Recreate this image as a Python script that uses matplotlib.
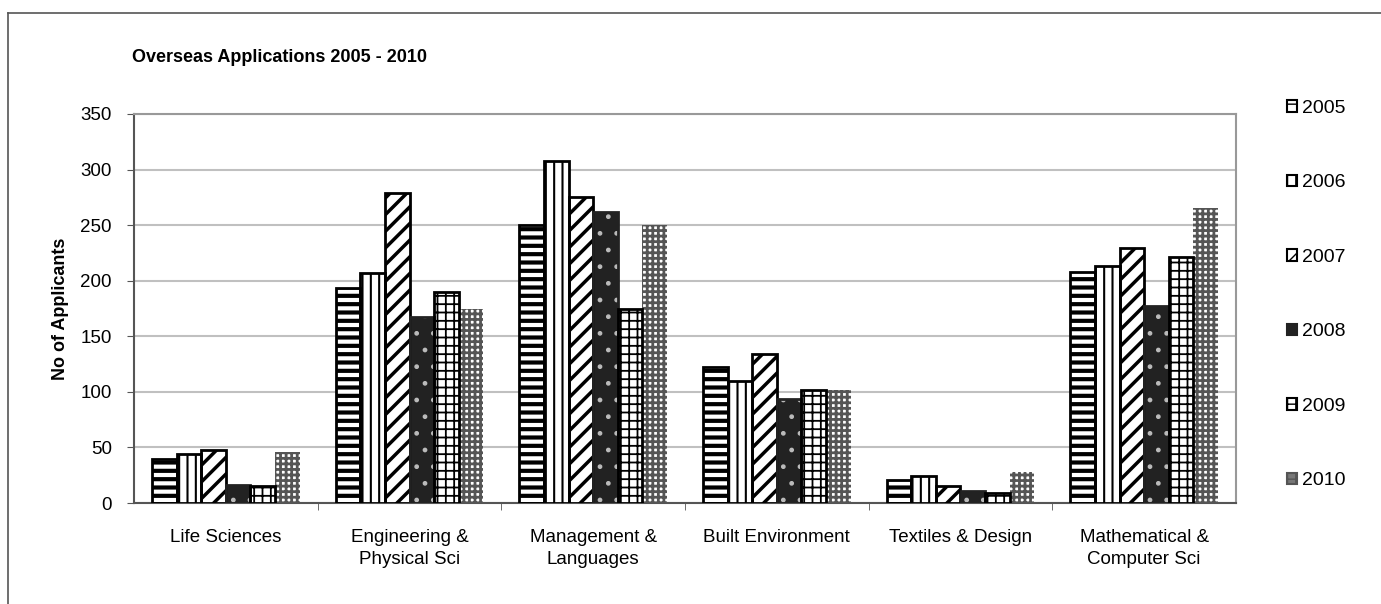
import matplotlib
matplotlib.use("Agg")
import matplotlib.pyplot as plt
import numpy as np
from matplotlib.patches import Patch
from matplotlib.lines import Line2D

plt.rcParams['font.family'] = ['Liberation Sans', 'DejaVu Sans']

categories = ["Life Sciences", "Engineering &\nPhysical Sci", "Management &\nLanguages",
              "Built Environment", "Textiles & Design", "Mathematical &\nComputer Sci"]
years = ["2005", "2006", "2007", "2008", "2009", "2010"]
v2005 = [40, 193, 250, 122, 21, 208]
v2006 = [44, 207, 308, 110, 24, 213]
v2007 = [48, 279, 275, 134, 15, 229]
v2008 = [16, 167, 262, 94, 11, 177]
v2009 = [15, 190, 175, 102, 9, 221]
v2010 = [46, 175, 250, 102, 28, 265]
series = [v2005, v2006, v2007, v2008, v2009, v2010]

styles = [
    dict(face='white', hatch='--', hcolor='black', lw=3.0),
    dict(face='white', hatch='||', hcolor='black', lw=1.5),
    dict(face='white', hatch='//', hcolor='black', lw=2.5),
    dict(face='#222222', hatch='.', hcolor='#bbbbbb', lw=1.0),
    dict(face='white', hatch='++', hcolor='black', lw=1.3),
    dict(face='white', hatch='+++', hcolor='#555555', lw=2.0),
]
outline = ['black', 'black', 'black', '#222222', 'black', None]

fig = plt.figure(figsize=(13.81, 6.04), dpi=100)
ax = fig.add_axes([134/1381, 1 - 503/604, (1236-134)/1381, (503-114)/604])

x = np.arange(len(categories))
w = 0.134
for i, (vals, st) in enumerate(zip(series, styles)):
    pos = x + (i - 2.5) * w
    plt.rcParams['hatch.linewidth'] = st['lw']
    ax.bar(pos, vals, w, color=st['face'], hatch=st['hatch'], edgecolor=st['hcolor'],
           linewidth=0, zorder=3)
    if outline[i] is not None:
        ax.bar(pos, vals, w, fill=False, edgecolor=outline[i], linewidth=2.0, zorder=4)

ax.set_xlim(-0.5, len(categories) - 0.5)
ax.set_ylim(0, 350)
ax.set_yticks(range(0, 351, 50))
ax.yaxis.grid(True, color='#c0c0c0', linewidth=1.5, zorder=0)
ax.set_axisbelow(True)
ax.set_xticks(x)
ax.set_xticklabels(categories, fontsize=13.5, linespacing=1.32)
ax.set_xticks(np.arange(0.5, len(categories) - 0.5, 1.0), minor=True)
ax.tick_params(axis='x', which='major', length=0, pad=19)
ax.tick_params(axis='x', which='minor', length=5, color='#555555', direction='out')
ax.tick_params(axis='y', length=5, color='#555555', labelsize=13.5, pad=11)
for s in ['left', 'bottom', 'right', 'top']:
    ax.spines[s].set_color('#999999')
    ax.spines[s].set_linewidth(1.5)
ax.spines['left'].set_color('#555555')
ax.spines['bottom'].set_color('#555555')
ax.set_ylabel("No of Applicants", fontsize=13, fontweight='bold', labelpad=8)

fig.text(132/1381, 1 - 58/604, "Overseas Applications 2005 - 2010", fontsize=13,
         fontweight='bold', va='center', ha='left')

# Legend
handles = []
for i, st in enumerate(styles):
    handles.append(Patch(facecolor=st['face'] if i != 5 else '#777777',
                         hatch=st['hatch'] if i != 5 else '++',
                         edgecolor=outline[i] or '#555555', linewidth=1.5))
plt.rcParams['hatch.linewidth'] = 1.0
leg = fig.legend(handles, years, loc='upper left', bbox_to_anchor=(1277/1381, 1 - 90/604),
                 frameon=False, fontsize=14, handlelength=0.55, handleheight=0.55,
                 handletextpad=0.25, labelspacing=2.96, borderpad=0)

# figure border (top and left only)
fig.add_artist(Line2D([8/1381, 1.0], [1 - 13/604, 1 - 13/604], transform=fig.transFigure,
                      color='#555555', linewidth=1.2))
fig.add_artist(Line2D([8/1381, 8/1381], [0, 1 - 13/604], transform=fig.transFigure,
                      color='#555555', linewidth=1.2))

fig.savefig("out.png", dpi=100)
